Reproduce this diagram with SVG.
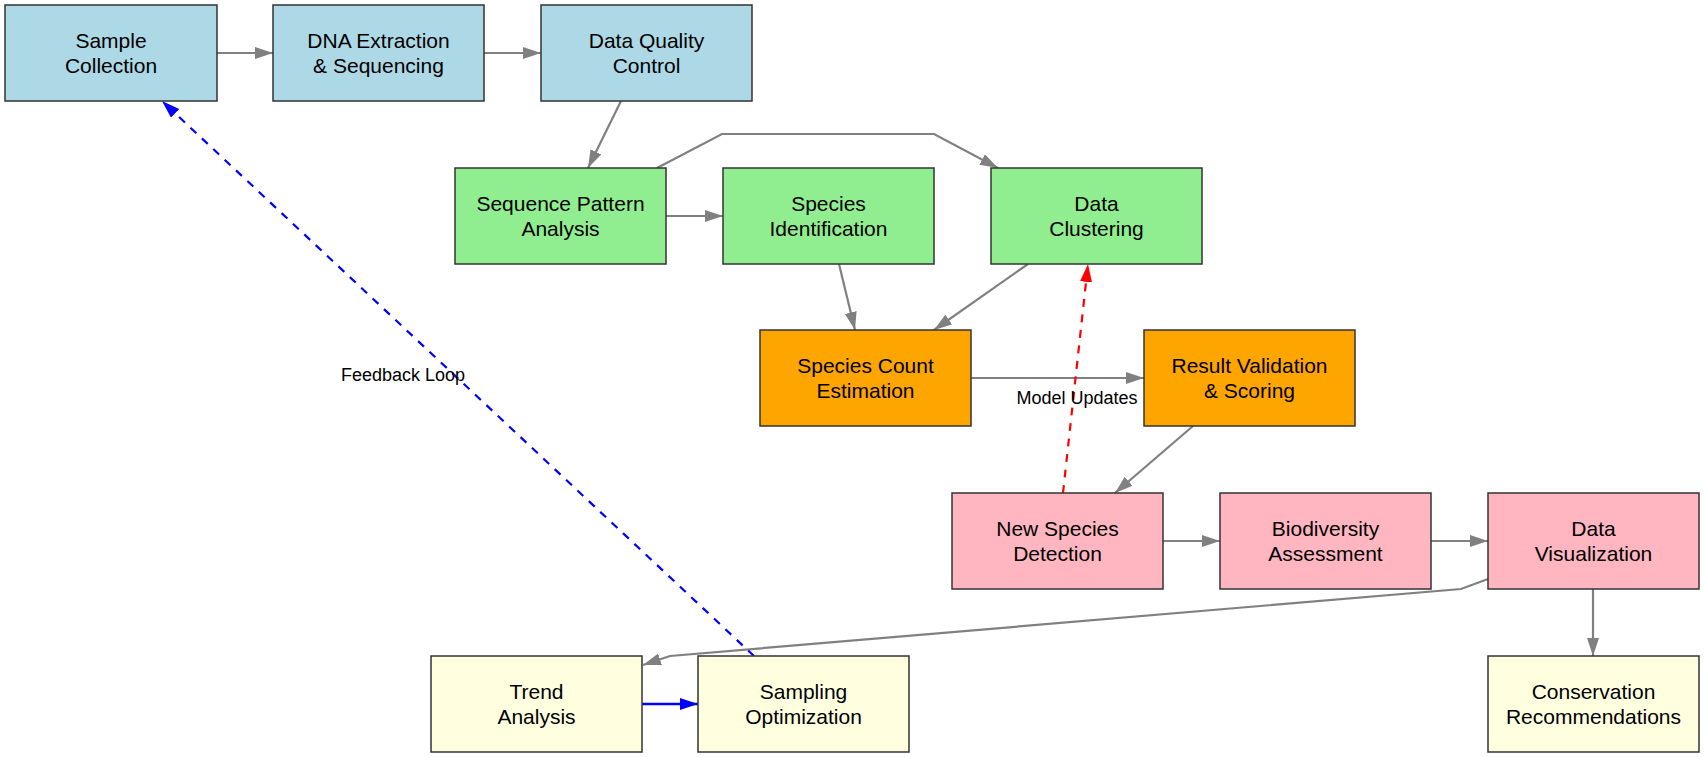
<svg xmlns="http://www.w3.org/2000/svg" width="1705" height="757" viewBox="0 0 1705 757">
<style>
.n rect{stroke:#333;stroke-width:1.5}
.n text{font-family:"Liberation Sans",Arial,sans-serif;font-size:21px;text-anchor:middle;fill:#000}
.blue rect{fill:#ADD8E6}
.green rect{fill:#90EE90}
.orange rect{fill:#FFA500}
.pink rect{fill:#FFB6C1}
.yellow rect{fill:#FFFFE0}
.e{fill:none;stroke:#808080;stroke-width:2.2;marker-end:url(#ag)}
.eb{fill:none;stroke:#0000FF;stroke-width:2.5;marker-end:url(#ab)}
.ebd{fill:none;stroke:#0000FF;stroke-width:2.2;stroke-dasharray:8,7.6;marker-end:url(#ab)}
.erd{fill:none;stroke:#FF0000;stroke-width:2.2;stroke-dasharray:8,7.6;marker-end:url(#ar)}
.lbl{font-family:"Liberation Sans",Arial,sans-serif;font-size:18px;text-anchor:middle;fill:#000}
</style>
<defs>
<marker id="ag" markerUnits="userSpaceOnUse" markerWidth="20" markerHeight="14" refX="18" refY="6" orient="auto"><path d="M0,0 L18,6 L0,12 z" fill="#808080"/></marker>
<marker id="ab" markerUnits="userSpaceOnUse" markerWidth="20" markerHeight="14" refX="18" refY="6" orient="auto"><path d="M0,0 L18,6 L0,12 z" fill="#0000FF"/></marker>
<marker id="ar" markerUnits="userSpaceOnUse" markerWidth="20" markerHeight="14" refX="18" refY="6" orient="auto"><path d="M0,0 L18,6 L0,12 z" fill="#FF0000"/></marker>
</defs>
<rect width="1705" height="757" fill="#fff"/>
<g id="connectors">
<path class="e" d="M217,53 L273,53"/>
<path class="e" d="M484,53 L541,53"/>
<path class="e" d="M621,101 L588,168"/>
<path class="e" d="M666,216 L723,216"/>
<path class="e" d="M657,168 L722,134 L934,134 L998,168"/>
<path class="e" d="M839,264 L855,330"/>
<path class="e" d="M1028,264 L934,330"/>
<path class="e" d="M971,378 L1144,378"/>
<path class="e" d="M1193,426 L1115,493"/>
<path class="e" d="M1163,541 L1220,541"/>
<path class="e" d="M1431,541 L1488,541"/>
<path class="e" d="M1593,589 L1593,656"/>
<path class="e" d="M1488,579 L1461,589 L670,656 L643,665"/>
<path class="eb" d="M642,704 L698,704"/>
<path class="ebd" d="M754,656 L162,101"/>
<path class="erd" d="M1063,493 L1088,264"/>
<text class="lbl" x="403" y="381">Feedback Loop</text>
<text class="lbl" x="1077" y="404">Model Updates</text>
</g>
<g id="sample" class="n blue"><rect x="5" y="5" width="212" height="96"/><text x="111" y="48">Sample</text><text x="111" y="73">Collection</text></g>
<g id="dna" class="n blue"><rect x="273" y="5" width="211" height="96"/><text x="378.5" y="48">DNA Extraction</text><text x="378.5" y="73">&amp; Sequencing</text></g>
<g id="dqc" class="n blue"><rect x="541" y="5" width="211" height="96"/><text x="646.5" y="48">Data Quality</text><text x="646.5" y="73">Control</text></g>
<g id="seqpat" class="n green"><rect x="455" y="168" width="211" height="96"/><text x="560.5" y="211">Sequence Pattern</text><text x="560.5" y="236">Analysis</text></g>
<g id="spid" class="n green"><rect x="723" y="168" width="211" height="96"/><text x="828.5" y="211">Species</text><text x="828.5" y="236">Identification</text></g>
<g id="cluster" class="n green"><rect x="991" y="168" width="211" height="96"/><text x="1096.5" y="211">Data</text><text x="1096.5" y="236">Clustering</text></g>
<g id="count" class="n orange"><rect x="760" y="330" width="211" height="96"/><text x="865.5" y="373">Species Count</text><text x="865.5" y="398">Estimation</text></g>
<g id="validation" class="n orange"><rect x="1144" y="330" width="211" height="96"/><text x="1249.5" y="373">Result Validation</text><text x="1249.5" y="398">&amp; Scoring</text></g>
<g id="newsp" class="n pink"><rect x="952" y="493" width="211" height="96"/><text x="1057.5" y="536">New Species</text><text x="1057.5" y="561">Detection</text></g>
<g id="biodiv" class="n pink"><rect x="1220" y="493" width="211" height="96"/><text x="1325.5" y="536">Biodiversity</text><text x="1325.5" y="561">Assessment</text></g>
<g id="vis" class="n pink"><rect x="1488" y="493" width="211" height="96"/><text x="1593.5" y="536">Data</text><text x="1593.5" y="561">Visualization</text></g>
<g id="trend" class="n yellow"><rect x="431" y="656" width="211" height="96"/><text x="536.5" y="699">Trend</text><text x="536.5" y="724">Analysis</text></g>
<g id="sampling" class="n yellow"><rect x="698" y="656" width="211" height="96"/><text x="803.5" y="699">Sampling</text><text x="803.5" y="724">Optimization</text></g>
<g id="conservation" class="n yellow"><rect x="1488" y="656" width="211" height="96"/><text x="1593.5" y="699">Conservation</text><text x="1593.5" y="724">Recommendations</text></g>
</svg>
